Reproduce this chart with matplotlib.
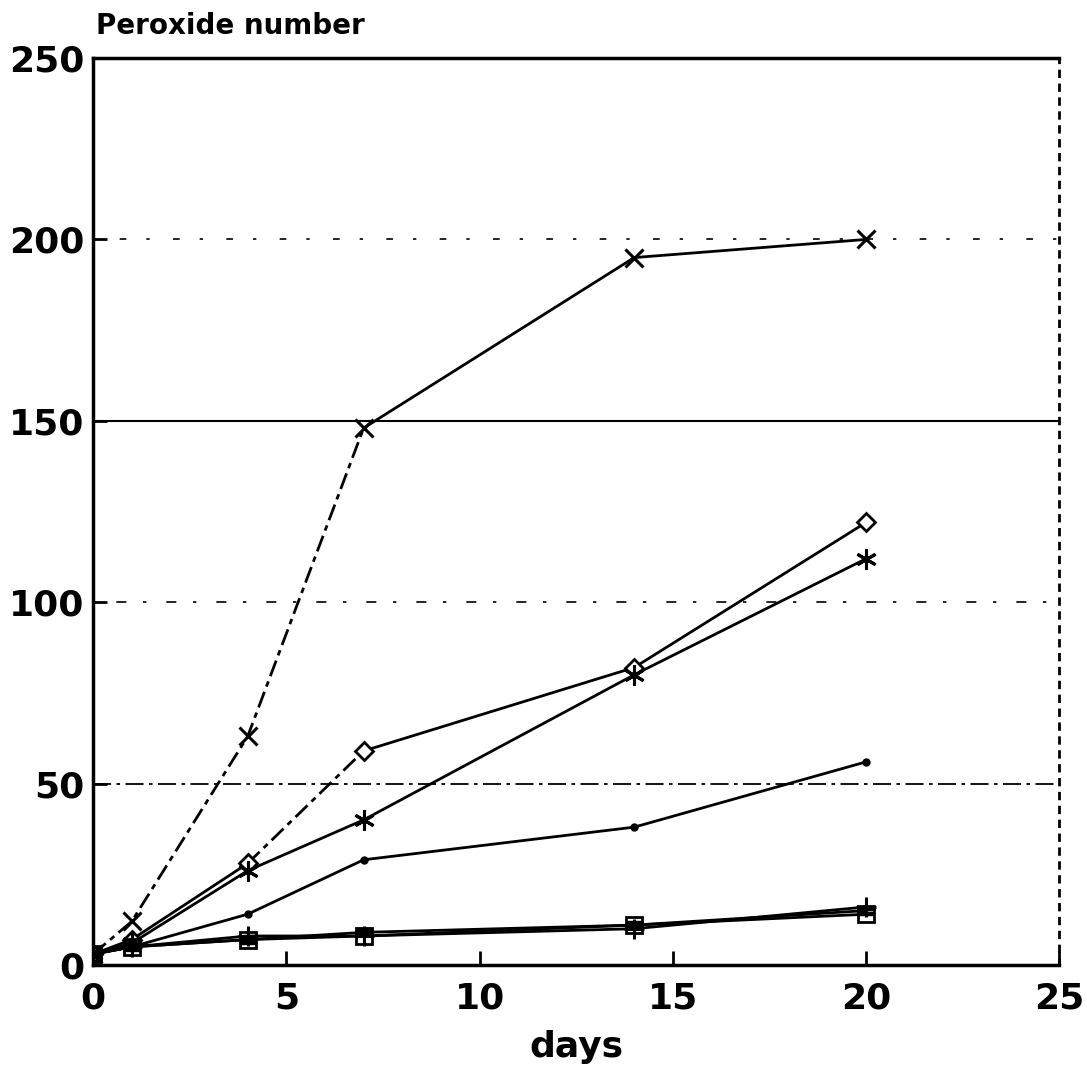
import numpy as np
import matplotlib.pyplot as plt

# storage days and peroxide numbers
days = [0, 1, 4, 7, 14, 20]
pv_cross = [3, 12, 63, 148, 195, 200]
pv_diamond = [3, 7, 28, 59, 82, 122]
pv_star = [3, 6, 26, 40, 80, 112]
pv_dot = [3, 5, 14, 29, 38, 56]
pv_square = [3, 5, 7, 8, 11, 14]
pv_plus = [3, 5, 8, 8, 10, 16]
pv_equal = [3, 5, 7, 9, 11, 15]

xticks = [0, 5, 10, 15, 20, 25]
yticks = [0, 50, 100, 150, 200, 250]

plt.rcParams['font.family'] = ['DejaVu Sans']
plt.rcParams['font.weight'] = 'bold'

fig = plt.figure(figsize=(10.87, 10.85), dpi=100)
ax = fig.add_axes([0.0856, 0.1106, 0.889, 0.8359])

# horizontal reference lines
ax.axhline(50, color='black', lw=1.3, ls=(0, (10, 3, 2, 3)), zorder=1)
ax.axhline(100, color='black', lw=1.2, ls=(0, (2, 12, 6, 10)), zorder=1)
ax.axhline(150, color='black', lw=1.5, ls='-', zorder=1)
ax.axhline(200, color='black', lw=1.2, ls=(0, (2, 14, 4, 12)), zorder=1)

lk = dict(color='black', lw=2.0)
dash = (0, (6, 2, 2, 2))
# cross series: broken line up to day 7, solid after
ax.plot(days[:4], pv_cross[:4], ls=dash, **lk)
ax.plot(days[3:], pv_cross[3:], ls='-', **lk)
ax.plot(days, pv_cross, ls='none', marker='x', ms=13, mew=2.2, color='black')

ax.plot(days[:3], pv_diamond[:3], ls='-', **lk)
ax.plot(days[2:4], pv_diamond[2:4], ls=dash, **lk)
ax.plot(days[3:], pv_diamond[3:], ls='-', **lk)
ax.plot(days, pv_diamond, ls='none', marker='D', ms=9, mfc='white', mec='black', mew=2)

ax.plot(days, pv_star, marker=(6, 2, 0), ms=15, mew=2.2, **lk)
ax.plot(days, pv_dot, marker='o', ms=5, **lk)
ax.plot(days, pv_square, marker='s', ms=11, mfc='none', mec='black', mew=2, **lk)
ax.plot(days, pv_plus, marker='+', ms=14, mew=2.2, **lk)
ax.plot(days, pv_equal, marker='$=$', ms=12, ls='-', color='black', lw=2.0)

ax.set_xlim(0, 25)
ax.set_ylim(0, 250)
ax.set_xticks(xticks)
ax.set_yticks(yticks)
ax.tick_params(axis='both', direction='in', length=10, width=2, labelsize=26, pad=12)
ax.tick_params(axis='y', pad=6)
for lab in ax.get_xticklabels() + ax.get_yticklabels():
    lab.set_fontweight('bold')

for s in ['left', 'bottom', 'top']:
    ax.spines[s].set_linewidth(2.5)
ax.spines['right'].set_linewidth(2)
ax.spines['right'].set_linestyle((0, (2, 3)))

ax.set_xlabel('days', fontsize=26, fontweight='bold', labelpad=10)
fig.text(0.088, 0.963, 'Peroxide number', fontsize=20, fontweight='bold', ha='left', va='bottom')

fig.savefig('out.png', dpi=100)
